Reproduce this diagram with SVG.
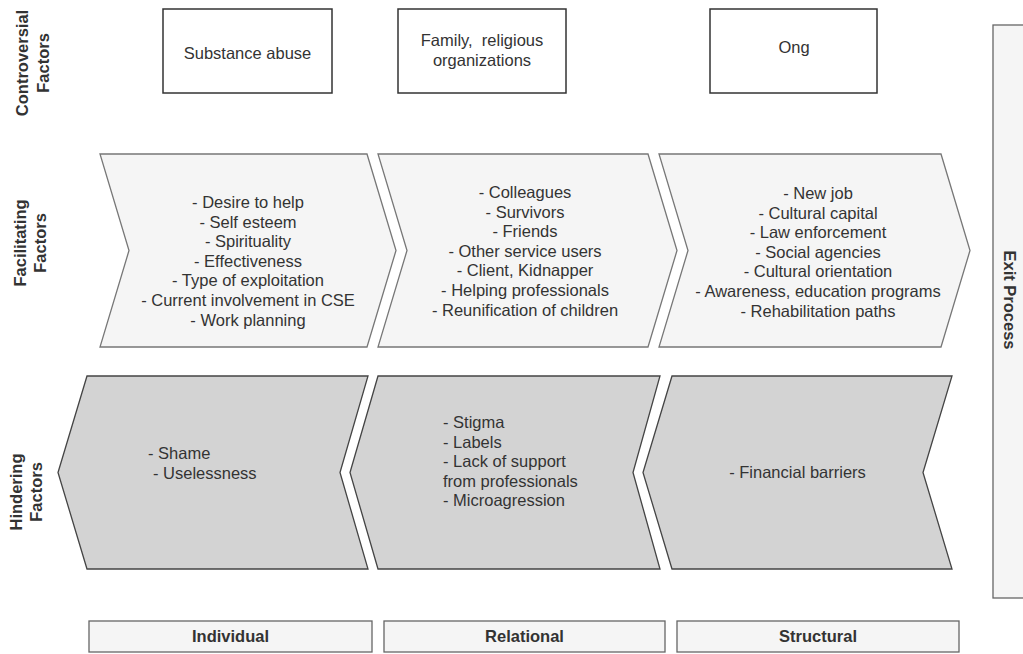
<svg xmlns="http://www.w3.org/2000/svg" width="1023" height="654" viewBox="0 0 1023 654">
<style>
text{font-family:"Liberation Sans",Arial,Helvetica,sans-serif;font-size:16.5px;fill:#333}
.b{font-weight:bold}
.c{text-anchor:middle}
.box{fill:#fff;stroke:#333;stroke-width:1.5}
.fac{fill:#f5f5f5;stroke:#777;stroke-width:1.3}
.hin{fill:#d3d3d3;stroke:#444;stroke-width:1.3}
.lvl{fill:#f5f5f5;stroke:#666;stroke-width:1.3}
</style>
<rect width="1023" height="654" fill="#fff"/>
<g id="row-labels">
<text class="b c" transform="translate(28,63) rotate(-90)"><tspan x="0" y="0">Controversial</tspan><tspan x="0" y="21">Factors</tspan></text>
<text class="b c" transform="translate(26,243) rotate(-90)"><tspan x="0" y="0">Facilitating</tspan><tspan x="0" y="20">Factors</tspan></text>
<text class="b c" transform="translate(22,492) rotate(-90)"><tspan x="0" y="0">Hindering</tspan><tspan x="0" y="20">Factors</tspan></text>
</g>
<g id="exit-process">
<rect class="lvl" x="993" y="25" width="40" height="573"/>
<text class="b c" transform="translate(1004,300) rotate(90)">Exit Process</text>
</g>
<g id="c1"><rect class="box" x="163" y="9" width="169" height="84"/><text class="c" x="247.5" y="59">Substance abuse</text></g>
<g id="c2"><rect class="box" x="398" y="9" width="168" height="84"/><text class="c" x="482" y="46">Family,&#160; religious</text><text class="c" x="482" y="66">organizations</text></g>
<g id="c3"><rect class="box" x="710" y="9" width="167" height="84"/><text class="c" x="794" y="53">Ong</text></g>
<g id="f1"><polygon class="fac" points="100,154 367,154 396,250.5 367,347 100,347 129,250.5"/>
<text class="c"><tspan x="248" y="208">- Desire to help</tspan><tspan x="248" y="227.6">- Self esteem</tspan><tspan x="248" y="247.2">- Spirituality</tspan><tspan x="248" y="266.8">- Effectiveness</tspan><tspan x="248" y="286.4">- Type of exploitation</tspan><tspan x="248" y="306">- Current involvement in CSE</tspan><tspan x="248" y="325.6">- Work planning</tspan></text></g>
<g id="f2"><polygon class="fac" points="378,154 648,154 677,250.5 648,347 378,347 407,250.5"/>
<text class="c"><tspan x="525" y="198">- Colleagues</tspan><tspan x="525" y="217.6">- Survivors</tspan><tspan x="525" y="237.2">- Friends</tspan><tspan x="525" y="256.8">- Other service users</tspan><tspan x="525" y="276.4">- Client, Kidnapper</tspan><tspan x="525" y="296">- Helping professionals</tspan><tspan x="525" y="315.6">- Reunification of children</tspan></text></g>
<g id="f3"><polygon class="fac" points="659,154 941,154 970,250.5 941,347 659,347 688,250.5"/>
<text class="c"><tspan x="818" y="199">- New job</tspan><tspan x="818" y="218.6">- Cultural capital</tspan><tspan x="818" y="238.2">- Law enforcement</tspan><tspan x="818" y="257.8">- Social agencies</tspan><tspan x="818" y="277.4">- Cultural orientation</tspan><tspan x="818" y="297">- Awareness, education programs</tspan><tspan x="818" y="316.6">- Rehabilitation paths</tspan></text></g>
<g id="h1"><polygon class="hin" points="87,376 368,376 340,472.5 368,569 87,569 58,472.5"/>
<text><tspan x="148" y="459">- Shame</tspan><tspan x="153" y="478.5">- Uselessness</tspan></text></g>
<g id="h2"><polygon class="hin" points="378,376 660,376 633,472.5 660,569 378,569 350,472.5"/>
<text><tspan x="443" y="428">- Stigma</tspan><tspan x="443" y="447.5">- Labels</tspan><tspan x="443" y="467">- Lack of support</tspan><tspan x="443" y="486.5">from professionals</tspan><tspan x="443" y="506">- Microagression</tspan></text></g>
<g id="h3"><polygon class="hin" points="672,376 952,376 923,472.5 952,569 672,569 643,472.5"/>
<text class="c" x="797.5" y="478">- Financial barriers</text></g>
<g id="l1"><rect class="lvl" x="89" y="621" width="283" height="31"/><text class="b c" x="230.5" y="642">Individual</text></g>
<g id="l2"><rect class="lvl" x="384" y="621" width="281" height="31"/><text class="b c" x="524.5" y="642">Relational</text></g>
<g id="l3"><rect class="lvl" x="677" y="621" width="282" height="31"/><text class="b c" x="818" y="642">Structural</text></g>
<g id="connectors"></g>
</svg>
